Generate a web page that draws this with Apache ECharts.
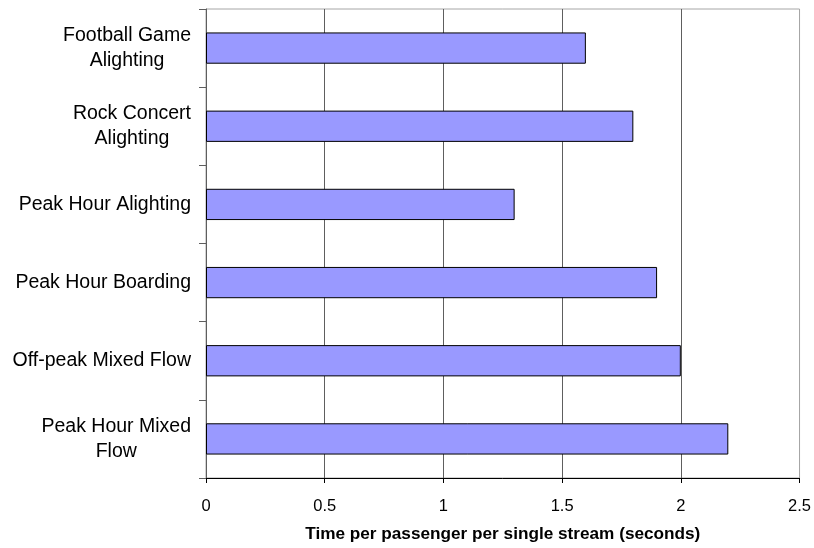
<!DOCTYPE html>
<html>
<head>
<meta charset="utf-8">
<style>
  html, body { margin: 0; padding: 0; background: #ffffff; }
  #chart { width: 814px; height: 548px; }
</style>
<script src="https://cdn.jsdelivr.net/npm/echarts@6/dist/echarts.min.js"></script>
</head>
<body>
<div id="chart"></div>
<script>
// Passenger movement types, top to bottom
const categories = [
  'Football Game\nAlighting',
  'Rock Concert\nAlighting',
  'Peak Hour Alighting',
  'Peak Hour Boarding',
  'Off-peak Mixed Flow',
  'Peak Hour Mixed\nFlow'
];

// Seconds per passenger per single stream
const timePerPassenger = [1.6, 1.8, 1.3, 1.9, 2.0, 2.2];

const axisTitle = 'Time per passenger per single stream (seconds)';

const FONT = '"Liberation Sans", Arial, Helvetica, sans-serif';

const chart = echarts.init(document.getElementById('chart'), null, { renderer: 'canvas' });

chart.setOption({
  backgroundColor: '#ffffff',
  animation: false,
  grid: {
    left: 206,
    right: 14,
    top: 9,
    bottom: 61,
    show: true,
    borderColor: '#a6a6a6',
    borderWidth: 1,
    containLabel: false
  },
  xAxis: {
    type: 'value',
    min: 0,
    max: 2.5,
    interval: 0.5,
    name: axisTitle,
    nameLocation: 'middle',
    nameGap: 48,
    nameTextStyle: {
      fontFamily: FONT,
      fontSize: 17.2,
      fontWeight: 'bold',
      color: '#000000'
    },
    axisLine: { show: true, lineStyle: { color: '#000000', width: 1 } },
    axisTick: { show: true, inside: false, length: 5, lineStyle: { color: '#000000' } },
    axisLabel: {
      fontFamily: FONT,
      fontSize: 16.5,
      color: '#000000',
      margin: 20,
      formatter: v => String(v)
    },
    splitLine: {
      show: true,
      lineStyle: {
        color: ['#a6a6a6', '#5e5e5e', '#5e5e5e', '#5e5e5e', '#5e5e5e', '#a6a6a6'],
        width: 1
      }
    }
  },
  yAxis: {
    type: 'category',
    data: categories,
    inverse: true,
    axisLine: { show: true, lineStyle: { color: '#5e5e5e', width: 1 } },
    axisTick: { show: true, inside: false, length: 7, lineStyle: { color: '#5e5e5e' } },
    axisLabel: {
      fontFamily: FONT,
      fontSize: 19.5,
      color: '#000000',
      margin: 15,
      formatter: v => v.split('\n').map(s => '{c|' + s + '}').join('\n'),
      rich: {
        c: {
          fontFamily: FONT,
          fontSize: 19.5,
          color: '#000000',
          align: 'center',
          lineHeight: 25
        }
      }
    },
    splitLine: { show: false }
  },
  series: [{
    type: 'bar',
    data: timePerPassenger,
    barCategoryGap: '60%',
    itemStyle: {
      color: '#9999ff',
      borderColor: '#000000',
      borderWidth: 1
    }
  }]
});
</script>
</body>
</html>
